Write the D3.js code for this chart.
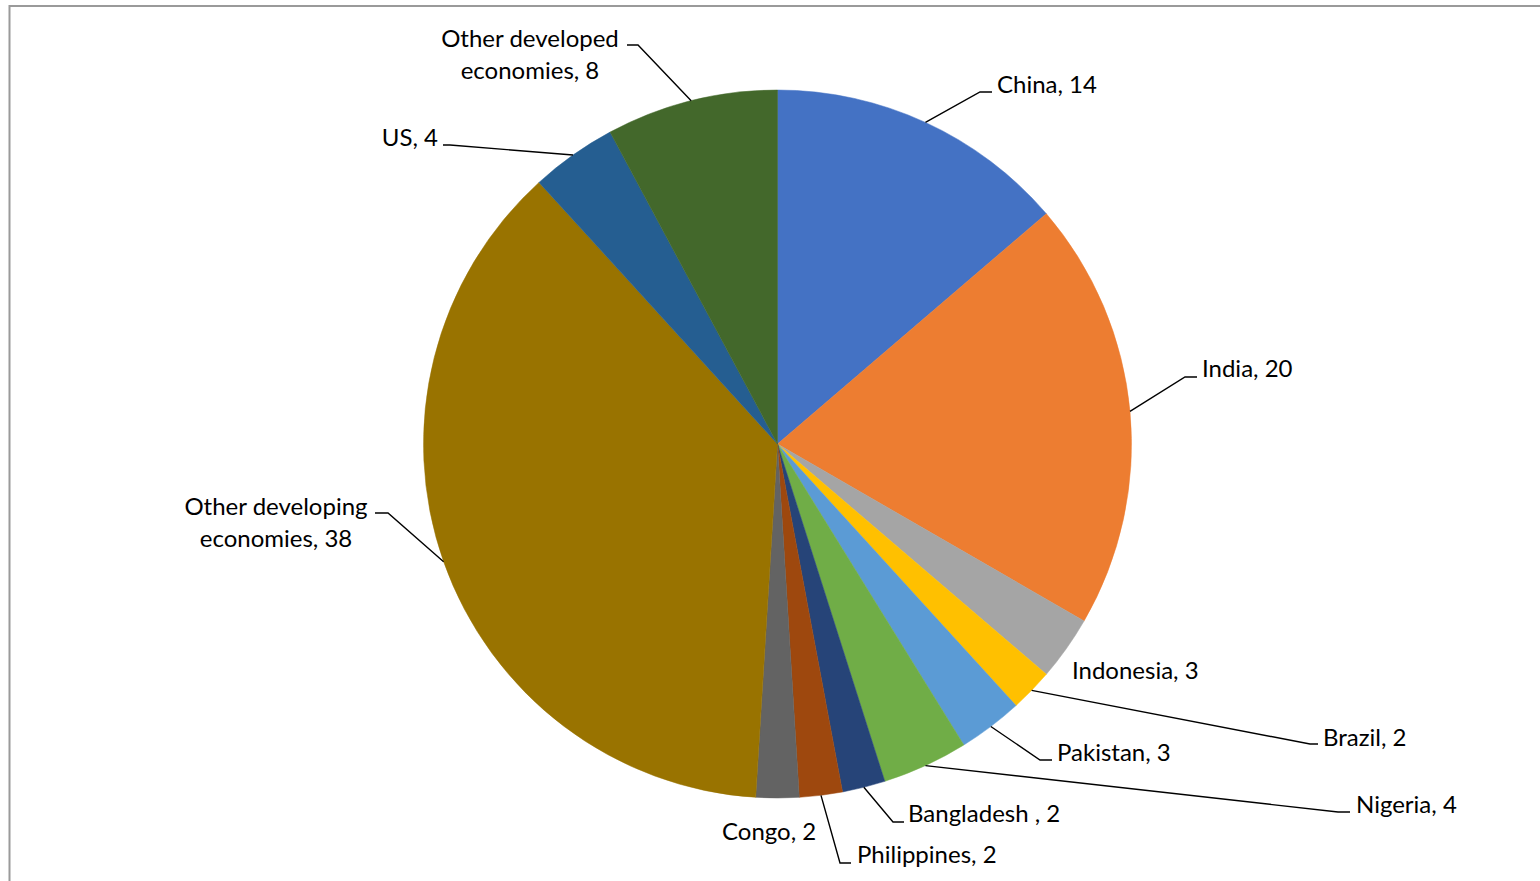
<!DOCTYPE html>
<html>
<head>
<meta charset="utf-8">
<script src="https://cdn.jsdelivr.net/npm/d3@7"></script>
<style>
  html, body { margin: 0; padding: 0; background: #fff; }
  svg { display: block; }
  text { font-family: Lato, "Open Sans", sans-serif; fill: #000; }
</style>
</head>
<body>
<svg id="chart" width="1540" height="881"></svg>
<script>
// Share of total, by economy
const categories = [
  "China", "India", "Indonesia", "Brazil", "Pakistan", "Nigeria",
  "Bangladesh ", "Philippines", "Congo", "Other developing economies",
  "US", "Other developed economies"
];
const values = [14, 20, 3, 2, 3, 4, 2, 2, 2, 38, 4, 8];
const colors = [
  "#4472C4", "#ED7D31", "#A5A5A5", "#FFC000", "#5B9BD5", "#70AD47",
  "#264478", "#9E480E", "#636363", "#997300", "#255E91", "#43682B"
];

// Label placement: text anchor point, baselines, leader elbow and end of the short horizontal tail
const labelLayout = [
  { anchor: "start",  x: 997,  ys: [93],       elbow: [980, 92],  tail: 992 },
  { anchor: "start",  x: 1202, ys: [377],      elbow: [1185, 377], tail: 1197 },
  { anchor: "start",  x: 1072, ys: [679],      elbow: null },
  { anchor: "start",  x: 1323, ys: [746],      elbow: [1310, 744], tail: 1318 },
  { anchor: "start",  x: 1057, ys: [761],      elbow: [1040, 760], tail: 1052 },
  { anchor: "start",  x: 1356, ys: [813],      elbow: [1338, 812], tail: 1350 },
  { anchor: "start",  x: 908,  ys: [822],      elbow: [893, 822],  tail: 904 },
  { anchor: "start",  x: 857,  ys: [863],      elbow: [840, 863],  tail: 851 },
  { anchor: "start",  x: 722,  ys: [840],      elbow: null },
  { anchor: "middle", x: 276,  ys: [515, 547], elbow: [388, 513],  tail: 375 },
  { anchor: "end",    x: 438,  ys: [146],      elbow: [450, 145],  tail: 443 },
  { anchor: "middle", x: 530,  ys: [47, 79],   elbow: [638, 45],   tail: 627 }
];

const svg = d3.select("#chart");

// Chart frame
svg.append("path")
  .attr("d", "M9.5,890 L9.5,6 L1550,6")
  .attr("fill", "none")
  .attr("stroke", "#9a9a9a")
  .attr("stroke-width", 2);

const cx = 777.5, cy = 444, radius = 354;
const g = svg.append("g").attr("transform", `translate(${cx},${cy})`);

const data = categories.map((name, i) => ({ name, value: values[i], color: colors[i], layout: labelLayout[i] }));

const pie = d3.pie().sort(null).value(d => d.value);
const arcs = pie(data);

const arc = d3.arc().innerRadius(0).outerRadius(radius);
const edge = d3.arc().innerRadius(radius).outerRadius(radius);

g.selectAll("path.slice")
  .data(arcs)
  .join("path")
  .attr("class", "slice")
  .attr("d", arc)
  .attr("fill", d => d.data.color)
  .attr("stroke", d => d.data.color)
  .attr("stroke-width", 0.5);

// Leader lines from slice edge to label
const line = d3.line();
svg.selectAll("path.leader")
  .data(arcs.filter(d => d.data.layout.elbow))
  .join("path")
  .attr("class", "leader")
  .attr("fill", "none")
  .attr("stroke", "#000")
  .attr("stroke-width", 1.4)
  .attr("d", d => {
    const [ex, ey] = edge.centroid(d);
    const L = d.data.layout;
    return line([[cx + ex, cy + ey], L.elbow, [L.tail, L.elbow[1]]]);
  });

// Data labels: "name, value", long names wrapped onto two lines
svg.selectAll("text.label")
  .data(arcs)
  .join("text")
  .attr("class", "label")
  .attr("text-anchor", d => d.data.layout.anchor)
  .style("font-size", "24px")
  .each(function (d) {
    const L = d.data.layout;
    const full = `${d.data.name}, ${d.data.value}`;
    let lines = [full];
    if (L.ys.length === 2) {
      const words = full.split(" ");
      lines = [words.slice(0, 2).join(" "), words.slice(2).join(" ")];
    }
    d3.select(this).selectAll("tspan")
      .data(lines)
      .join("tspan")
      .attr("x", L.x)
      .attr("y", (t, i) => L.ys[i])
      .text(t => t);
  });
</script>
</body>
</html>
